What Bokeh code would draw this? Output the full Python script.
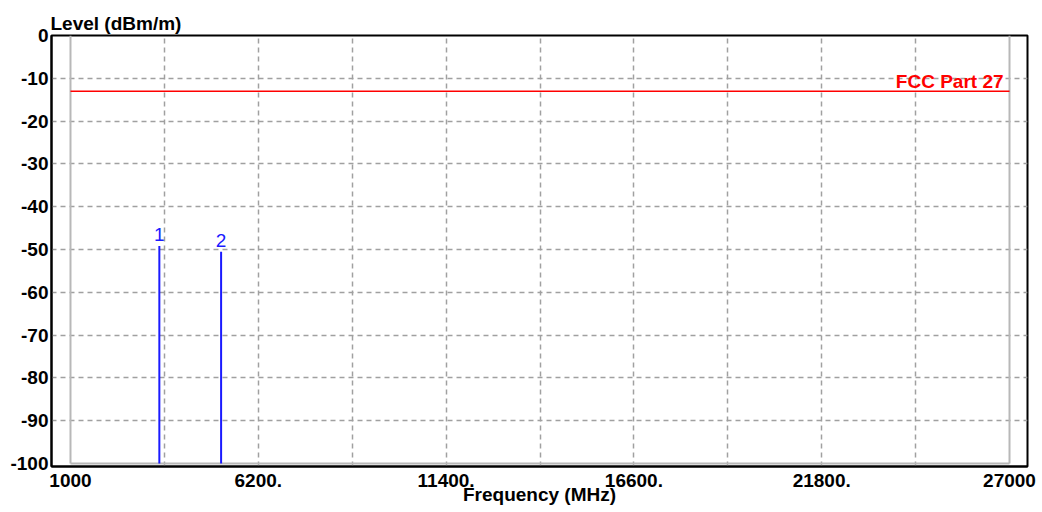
from bokeh.plotting import figure
from bokeh.models import FixedTicker, Range1d
from bokeh.core.properties import value
from bokeh.embed import file_html
from bokeh.resources import INLINE

# ---- data ----
freq_ticks = [1000, 6200, 11400, 16600, 21800, 27000]
freq_tick_labels = ["1000", "6200.", "11400.", "16600.", "21800.", "27000"]
freq_grid = [3600, 6200, 8800, 11400, 14000, 16600, 19200, 21800, 24400]
level_ticks = [0, -10, -20, -30, -40, -50, -60, -70, -80, -90, -100]
level_tick_labels = ["0", "-10", "-20", "-30", "-40", "-50", "-60", "-70", "-80", "-90", "-100"]
level_grid = [-10, -20, -30, -40, -50, -60, -70, -80, -90]

marker_ids = ["1", "2"]
marker_freq = [3460, 5170]
marker_level = [-49.2, -50.5]

limit_name = "FCC Part 27"
limit_freq = [1000, 27000]
limit_level = [-13, -13]

x_min, x_max = 1000, 27000
y_min, y_max = -100, 0

FONT = "Liberation Sans"
FS = "19px"

p = figure(width=1042, height=512, output_backend="svg", toolbar_location=None,
           x_range=Range1d(474, 27498), y_range=Range1d(-100.7, 0),
           min_border_left=51, min_border_right=15, min_border_top=35, min_border_bottom=46,
           title="Level (dBm/m)")
p.background_fill_color = "white"
p.border_fill_color = "white"
p.outline_line_color = "black"
p.outline_line_width = 2

# title used as the y-axis caption (top left)
p.title.align = "left"
p.title.offset = -1
p.title.standoff = 3
p.title.text_font = FONT
p.title.text_font_style = "bold"
p.title.text_font_size = FS
p.title.text_color = "black"

# axes
for ax in (p.xaxis[0], p.yaxis[0]):
    ax.major_tick_in = 0
    ax.major_tick_out = 0
    ax.minor_tick_in = 0
    ax.minor_tick_out = 0
    ax.axis_line_color = "black"
    ax.axis_line_width = 2
    ax.major_label_text_font = FONT
    ax.major_label_text_font_style = "bold"
    ax.major_label_text_font_size = FS
    ax.major_label_text_color = "black"

p.xaxis.ticker = FixedTicker(ticks=freq_ticks)
p.xaxis.major_label_overrides = {t: l for t, l in zip(freq_ticks, freq_tick_labels)}
p.xaxis.major_label_standoff = 7
p.xaxis.axis_label = "Frequency (MHz)"
p.xaxis.axis_label_standoff = -6
p.xaxis.axis_label_text_font = FONT
p.xaxis.axis_label_text_font_style = "bold"
p.xaxis.axis_label_text_font_size = FS
p.xaxis.axis_label_text_color = "black"

p.yaxis.ticker = FixedTicker(ticks=level_ticks)
p.yaxis.major_label_overrides = {t: l for t, l in zip(level_ticks, level_tick_labels)}
p.yaxis.major_label_standoff = 3

# grid
p.xgrid.ticker = FixedTicker(ticks=freq_grid)
p.ygrid.ticker = FixedTicker(ticks=level_grid)
for g in (p.xgrid[0], p.ygrid[0]):
    g.grid_line_color = "#a0a0a0"
    g.grid_line_dash = "5 4"
    g.grid_line_width = 1.5

# inner gray data frame
p.line(x=[x_min, x_min], y=[y_min, y_max], line_color="#b8b8b8", line_width=2)
p.line(x=[x_max, x_max], y=[y_min, y_max], line_color="#b8b8b8", line_width=2)
p.line(x=[x_min, x_max], y=[y_min, y_min], line_color="#b8b8b8", line_width=2)

# limit line
p.line(x=limit_freq, y=limit_level, line_color="#ff0000", line_width=1.5)
p.text(x=[limit_freq[-1]], y=[limit_level[-1]], text=[limit_name],
       text_align="right", text_baseline="bottom", x_offset=-6, y_offset=1,
       text_font=value(FONT), text_font_style="bold", text_font_size=FS,
       text_color="#ff0000")

# markers
p.segment(x0=marker_freq, y0=[y_min] * len(marker_freq), x1=marker_freq, y1=marker_level,
          line_color="#1a1aff", line_width=2)
p.text(x=marker_freq, y=marker_level, text=marker_ids,
       text_align="center", text_baseline="bottom", y_offset=-5,
       text_font=value(FONT), text_font_size=FS, text_color="#1a1aff")

open("out.html", "w").write(file_html(p, INLINE))
